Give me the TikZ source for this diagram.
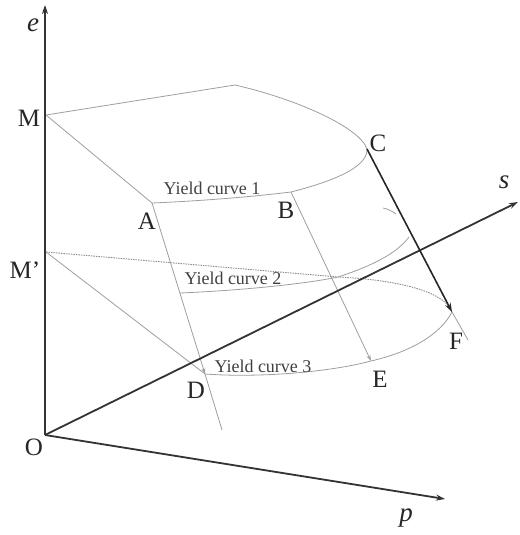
\documentclass[tikz,border=0pt]{standalone}
\usepackage{fontspec}
\setmainfont{Liberation Serif}
\usetikzlibrary{arrows.meta}
\begin{document}
\begin{tikzpicture}[x=1pt,y=-1pt,
 axis/.style={line width=1.8pt, draw=black!80, -{Stealth[length=9pt,width=6pt]}},
 thinline/.style={line width=0.8pt, draw=black!38},
 thinarr/.style={thinline, -{Stealth[length=6pt,width=4pt]}},
 dotline/.style={line width=0.9pt, draw=black!45, dash pattern=on 1.5pt off 1pt},
 boldarr/.style={line width=1.6pt, draw=black!85, -{Stealth[length=9pt,width=6pt]}},
 lbl/.style={font=\fontsize{25}{25}\selectfont, text=black!85, inner sep=0pt},
 axlbl/.style={font=\fontsize{27}{27}\selectfont\itshape, text=black!85, inner sep=0pt},
 yc/.style={font=\fontsize{18}{18}\selectfont, text=black!75, inner sep=0pt},
]
\useasboundingbox (0,0) rectangle (519,535);
% points
\coordinate (O) at (45,435);
\coordinate (eTop) at (45,5);
\coordinate (sEnd) at (518,202);
\coordinate (pEnd) at (445,499);
\coordinate (M) at (46,115);
\coordinate (Mp) at (46,252);
\coordinate (T) at (235,85);
\coordinate (A) at (152,203);
\coordinate (B) at (291,192);
\coordinate (C) at (367,149);
\coordinate (D) at (205,374);
\coordinate (E) at (371,361);
\coordinate (F) at (452,312);
\coordinate (Dx) at (222,430);
\coordinate (Fx) at (468,340);
\coordinate (Q) at (338,277);
\coordinate (Y2a) at (180,293);
\coordinate (Y2b) at (409,237);
\coordinate (H1) at (396,214);
\coordinate (H2) at (383,208);

% top surface
\draw[thinline] (M) -- (T) .. controls (300,100) and (360,128) .. (C);
\draw[thinline] (A) .. controls (200,201) and (250,197) .. (B)
  .. controls (330,182) and (368,168) .. (C);
\draw[thinline] (M) -- (A);
% vertical connectors
\draw[thinline] (D) -- (Dx);
\draw[thinarr] (A) -- (D);
\draw[thinarr] (B) -- (E);
% middle section
\draw[thinline] (Mp) -- (D);
\draw[dotline] (Mp) -- (Q) .. controls (400,280) and (445,292) .. (F);
\draw[thinline] (Y2a) .. controls (250,290) and (310,283) .. (Q)
  .. controls (375,265) and (398,252) .. (Y2b);
\draw[thinline] (H1) .. controls (392,211) and (388,209) .. (H2);
% yield curve 3
\draw[thinline] (D) .. controls (260,378) and (330,372) .. (E)
  .. controls (410,352) and (440,335) .. (F);
\draw[thinline] (F) -- (Fx);
% axes
\draw[axis] (O) -- (eTop);
\draw[axis] (O) -- (sEnd);
\draw[axis] (O) -- (pEnd);
% C to F
\draw[boldarr] (C) -- (F);

% labels
\node[axlbl] (le) at (33,25) {e};
\node[axlbl] (ls) at (504,182) {s};
\node[axlbl] (lp) at (406,518) {p};
\node[lbl] (lM) at (29,118) {M};
\node[lbl] (lMp) at (25,270) {M’};
\node[lbl] (lO) at (34,447) {O};
\node[lbl] (lA) at (147,221) {A};
\node[lbl] (lB) at (286,210) {B};
\node[lbl] (lC) at (378,143) {C};
\node[lbl] (lD) at (196,390) {D};
\node[lbl] (lE) at (380,379) {E};
\node[lbl] (lF) at (456,341) {F};
\node[yc] (y1) at (212,188) {Yield curve 1};
\node[yc] (y2) at (233,278) {Yield curve 2};
\node[yc] (y3) at (263,366) {Yield curve 3};
\end{tikzpicture}
\end{document}
